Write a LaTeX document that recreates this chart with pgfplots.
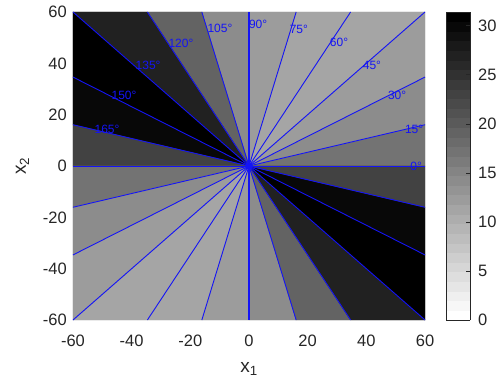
\documentclass[border=0pt]{standalone}
\usepackage{pgfplots}
\pgfplotsset{compat=1.18}
\usepackage{fontspec}
\setmainfont{Liberation Sans}
\definecolor{axgray}{RGB}{38,38,38}
\definecolor{rayblue}{RGB}{20,20,245}
\pgfplotsset{colormap={revgraysteps}{
gray(0cm)=(1); gray(1cm)=(0.9677); gray(2cm)=(0.9355); gray(3cm)=(0.9032);
gray(4cm)=(0.8710); gray(5cm)=(0.8387); gray(6cm)=(0.8065); gray(7cm)=(0.7742);
gray(8cm)=(0.7419); gray(9cm)=(0.7097); gray(10cm)=(0.6774); gray(11cm)=(0.6452);
gray(12cm)=(0.6129); gray(13cm)=(0.5806); gray(14cm)=(0.5484); gray(15cm)=(0.5161);
gray(16cm)=(0.4839); gray(17cm)=(0.4516); gray(18cm)=(0.4194); gray(19cm)=(0.3871);
gray(20cm)=(0.3548); gray(21cm)=(0.3226); gray(22cm)=(0.2903); gray(23cm)=(0.2581);
gray(24cm)=(0.2258); gray(25cm)=(0.1935); gray(26cm)=(0.1613); gray(27cm)=(0.1290);
gray(28cm)=(0.0968); gray(29cm)=(0.0645); gray(30cm)=(0.0323); gray(31cm)=(0);
gray(32cm)=(0)}}
\pgfplotstableread{
x y c
0 0 17.17
60 0 17.17
60 16.077 17.17
0 0 14.23
60 16.077 14.23
60 34.641 14.23
0 0 12.27
60 34.641 12.27
60 60 12.27
0 0 11.28
60 60 11.28
34.641 60 11.28
0 0 11.28
34.641 60 11.28
16.077 60 11.28
0 0 12.27
16.077 60 12.27
0 60 12.27
0 0 14.23
0 60 14.23
-16.077 60 14.23
0 0 19.13
-16.077 60 19.13
-34.641 60 19.13
0 0 26.98
-34.641 60 26.98
-60 60 26.98
0 0 31.4
-60 60 31.4
-60 34.641 31.4
0 0 29.93
-60 34.641 29.93
-60 16.077 29.93
0 0 23.06
-60 16.077 23.06
-60 0 23.06
0 0 17.17
-60 0 17.17
-60 -16.077 17.17
0 0 14.23
-60 -16.077 14.23
-60 -34.641 14.23
0 0 12.27
-60 -34.641 12.27
-60 -60 12.27
0 0 11.28
-60 -60 11.28
-34.641 -60 11.28
0 0 11.28
-34.641 -60 11.28
-16.077 -60 11.28
0 0 12.27
-16.077 -60 12.27
0 -60 12.27
0 0 14.23
0 -60 14.23
16.077 -60 14.23
0 0 19.13
16.077 -60 19.13
34.641 -60 19.13
0 0 26.98
34.641 -60 26.98
60 -60 26.98
0 0 31.4
60 -60 31.4
60 -34.641 31.4
0 0 29.93
60 -34.641 29.93
60 -16.077 29.93
0 0 23.06
60 -16.077 23.06
60 0 23.06
}\sectors
\begin{document}
\begin{tikzpicture}
\useasboundingbox (-73bp,-63bp) rectangle (426bp,320bp);
\begin{axis}[
  at={(0,0)}, anchor=south west,
  scale only axis, width=352bp, height=308bp,
  xmin=-60, xmax=60, ymin=-60, ymax=60,
  xtick={-60,-40,...,60}, ytick={-60,-40,...,60},
  axis line style={draw=none},
  xtick style={draw=none}, ytick style={draw=none},
  major tick length=0pt,
  /pgf/number format/assume math mode=true,
  tick label style={font=\fontsize{16.5bp}{18bp}\selectfont, text=axgray},
  xticklabel style={anchor=north, inner sep=0pt, yshift=-15bp},
  yticklabel style={anchor=east, inner sep=0pt, xshift=-6bp},
  xlabel={x\textsubscript{1}}, ylabel={x\textsubscript{2}},
  label style={font=\fontsize{19bp}{22bp}\selectfont, text=axgray, inner sep=0pt},
  xlabel style={at={([yshift=-52bp]axis description cs:0.5,0)}, anchor=base},
  ylabel style={at={([xshift=-47bp]axis description cs:0,0.5)}, anchor=base},
  colormap name=revgraysteps,
  colormap access=piecewise constant,
  point meta min=0, point meta max=31.4,
  colorbar,
  colorbar style={
    at={(parent axis.north east)}, anchor=north west, xshift=12.5bp,
    scale only axis, width=24bp, height=308bp,
    ytick={0,5,...,30},
    ytick pos=right, yticklabel pos=right,
    tick align=inside, major tick length=4bp,
    ytick style={draw=axgray, line width=0.6bp},
    axis line style={draw=axgray, line width=0.6bp},
    /pgf/number format/assume math mode=true,
    yticklabel style={font=\fontsize{16.5bp}{18bp}\selectfont, text=axgray, anchor=west, inner sep=0pt, xshift=8bp},
  },
]
\addplot[patch, patch type=triangle, shader=flat, point meta=explicit] table[x=x, y=y, meta=c] {\sectors};
\addplot[rayblue, line width=0.9bp] coordinates {(60,0) (-60,0)};
\addplot[rayblue, line width=0.9bp] coordinates {(60,16.077) (-60,-16.077)};
\addplot[rayblue, line width=0.9bp] coordinates {(60,34.641) (-60,-34.641)};
\addplot[rayblue, line width=0.9bp] coordinates {(60,60) (-60,-60)};
\addplot[rayblue, line width=0.9bp] coordinates {(34.641,60) (-34.641,-60)};
\addplot[rayblue, line width=0.9bp] coordinates {(16.077,60) (-16.077,-60)};
\addplot[rayblue, line width=0.9bp] coordinates {(-16.077,60) (16.077,-60)};
\addplot[rayblue, line width=0.9bp] coordinates {(-34.641,60) (34.641,-60)};
\addplot[rayblue, line width=0.9bp] coordinates {(-60,60) (60,-60)};
\addplot[rayblue, line width=0.9bp] coordinates {(-60,34.641) (60,-34.641)};
\addplot[rayblue, line width=0.9bp] coordinates {(-60,16.077) (60,-16.077)};
\addplot[rayblue, line width=1.4bp] coordinates {(0,60) (0,-60)};
\addplot[only marks, mark=*, mark size=3.5bp, rayblue, mark options={draw=rayblue, fill=rayblue}] coordinates {(0,0)};
\begin{scope}[every node/.style={text=rayblue, font=\fontsize{12bp}{14bp}\selectfont, inner sep=0pt}]
\node at (axis cs:57,0) {0°};
\node at (axis cs:56.3,14.4) {15°};
\node at (axis cs:50.5,27.7) {30°};
\node at (axis cs:41.9,39.3) {45°};
\node at (axis cs:30.7,48.3) {60°};
\node at (axis cs:17.0,53.4) {75°};
\node at (axis cs:3.1,55.3) {90°};
\node at (axis cs:-9.9,53.8) {105°};
\node at (axis cs:-23.2,47.9) {120°};
\node at (axis cs:-34.4,39.3) {135°};
\node at (axis cs:-42.6,27.7) {150°};
\node at (axis cs:-48.4,14.4) {165°};
\end{scope}
\end{axis}
\end{tikzpicture}
\end{document}
